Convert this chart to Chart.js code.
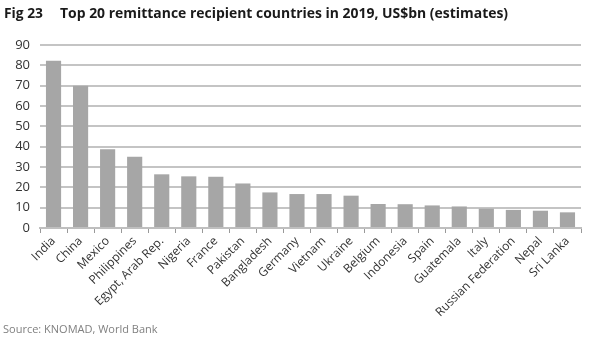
<!DOCTYPE html>
<html>
<head>
<meta charset="utf-8">
<script src="https://cdn.jsdelivr.net/npm/chart.js@4.4.0/dist/chart.umd.min.js"></script>
<style>
  html, body { margin: 0; padding: 0; background: #fff; }
  #wrap { position: relative; width: 595px; height: 345px; overflow: hidden; font-family: "Open Sans", sans-serif; }
  .title { position: absolute; top: 3px; font-size: 14px; font-weight: bold; color: #1a1a1a; white-space: nowrap; }
  #fig { left: 4px; }
  #titleText { left: 60px; }
  #source { position: absolute; left: 3px; top: 321px; font-size: 11px; color: #808080; white-space: nowrap; }
  #chartBox { position: absolute; left: 0; top: 0; width: 595px; height: 345px; }
</style>
</head>
<body>
<div id="wrap">
  <div id="chartBox"><canvas id="myChart"></canvas></div>
  <div class="title" id="fig">Fig 23</div>
  <div class="title" id="titleText">Top 20 remittance recipient countries in 2019, US$bn (estimates)</div>
  <div id="source">Source: KNOMAD, World Bank</div>
</div>
<script>
// Countries and remittances received, US$bn
const countries = ['India', 'China', 'Mexico', 'Philippines', 'Egypt, Arab Rep.', 'Nigeria', 'France',
    'Pakistan', 'Bangladesh', 'Germany', 'Vietnam', 'Ukraine', 'Belgium', 'Indonesia', 'Spain',
    'Guatemala', 'Italy', 'Russian Federation', 'Nepal', 'Sri Lanka'];
const remittances = [82.2, 70.0, 38.7, 35.1, 26.4, 25.4, 25.2, 21.9, 17.5, 16.7,
    16.7, 15.9, 11.8, 11.7, 11.1, 10.6, 9.5, 8.9, 8.5, 7.7];
const yTicks = [0, 10, 20, 30, 40, 50, 60, 70, 80, 90];

// shrink/grow title text so it spans the same width as in the original
function fitWidth(id, target) {
    const el = document.getElementById(id);
    const w = el.getBoundingClientRect().width;
    const size = parseFloat(getComputedStyle(el).fontSize);
    el.style.fontSize = (size * target / w).toFixed(2) + 'px';
}
fitWidth('titleText', 448);
fitWidth('fig', 39);

const ctx = document.getElementById('myChart').getContext('2d');

new Chart(ctx, {
    type: 'bar',
    data: {
        labels: countries,
        datasets: [{
            data: remittances,
            backgroundColor: '#a6a6a6',
            barPercentage: 0.56,
            categoryPercentage: 1.0
        }]
    },
    options: {
        responsive: true,
        maintainAspectRatio: false,
        animation: false,
        layout: { padding: { top: 45, right: 14, left: 0, bottom: 0 } },
        plugins: {
            legend: { display: false },
            tooltip: { enabled: false }
        },
        scales: {
            x: {
                grid: {
                    offset: true,
                    drawOnChartArea: false,
                    drawTicks: true,
                    tickLength: 5,
                    color: '#999999'
                },
                border: { display: true, color: '#bfbfbf', width: 2 },
                ticks: {
                    minRotation: 45,
                    maxRotation: 45,
                    autoSkip: false,
                    color: '#333333',
                    padding: 1,
                    font: { family: 'Open Sans', size: 12 }
                },
                afterFit: function(scale) { scale.height = 117; }
            },
            y: {
                min: 0,
                max: 90,
                afterBuildTicks: function(scale) {
                    scale.ticks = yTicks.map(v => ({ value: v }));
                },
                grid: {
                    color: '#c4c4c4',
                    lineWidth: 2,
                    drawTicks: false
                },
                border: { display: false },
                ticks: {
                    color: '#333333',
                    padding: 10,
                    font: { family: 'Open Sans', size: 13 }
                },
                afterFit: function(scale) { scale.width = 40; }
            }
        }
    }
});
</script>
</body>
</html>
